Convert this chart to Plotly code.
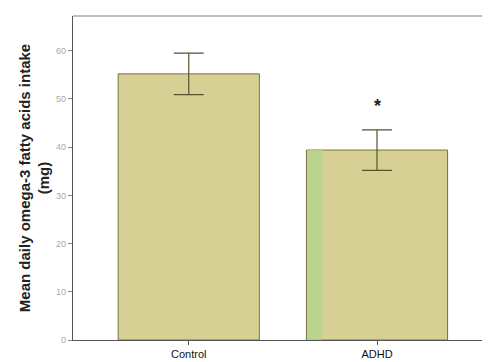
import plotly.graph_objects as go

groups = ["Control", "ADHD"]
means = [55.2, 39.4]
errors = [4.3, 4.2]
y_ticks = [0, 10, 20, 30, 40, 50, 60]
sig_marker = ["", "*"]

fig = go.Figure()
fig.add_trace(go.Bar(
    x=groups, y=means, width=0.75,
    marker=dict(color="#d6d095", line=dict(color="#7a7440", width=1)),
    error_y=dict(type="data", array=errors, color="#55532c", thickness=1.2, width=15),
    showlegend=False,
))
# light green strip at left edge of ADHD bar (as in original rendering)
fig.add_trace(go.Bar(
    x=groups, y=[None, means[1]], width=0.08, offset=-0.37,
    marker=dict(color="#b3d58e", line=dict(width=0)), opacity=0.8,
    showlegend=False,
))
for g, m, e, s in zip(groups, means, errors, sig_marker):
    if s:
        fig.add_annotation(x=g, y=m + e, text="<b>" + s + "</b>", showarrow=False, yshift=24,
                           font=dict(size=18, color="#222", family="Liberation Sans"))

fig.update_layout(
    width=482, height=354,
    margin=dict(l=65, r=1, t=8, b=22),
    paper_bgcolor="white", plot_bgcolor="white",
    barmode="overlay",
    font=dict(family="Liberation Sans, Arial", color="#222"),
)
fig.update_xaxes(
    range=[-0.615, 1.595], showline=True, linecolor="#555", linewidth=1.2,
    ticks="outside", ticklen=4, tickcolor="#555", automargin=False,
    tickfont=dict(size=11, color="#111"), showgrid=False, zeroline=False,
)
fig.update_yaxes(
    range=[0, 67.2], tickvals=y_ticks, showline=True, linecolor="#555", linewidth=1.2,
    ticks="outside", ticklen=4, tickcolor="#888", automargin=False,
    tickfont=dict(size=9, color="#aaa"), showgrid=False, zeroline=False,
    title=dict(text="<b>Mean daily omega-3 fatty acids intake<br>(mg)</b>",
               font=dict(size=15, color="#222"), standoff=2),
)
fig.add_shape(type="line", xref="paper", yref="paper", x0=0, x1=1, y0=1, y1=1,
              line=dict(color="#aaa", width=1.5))
fig.write_html("out.html")
